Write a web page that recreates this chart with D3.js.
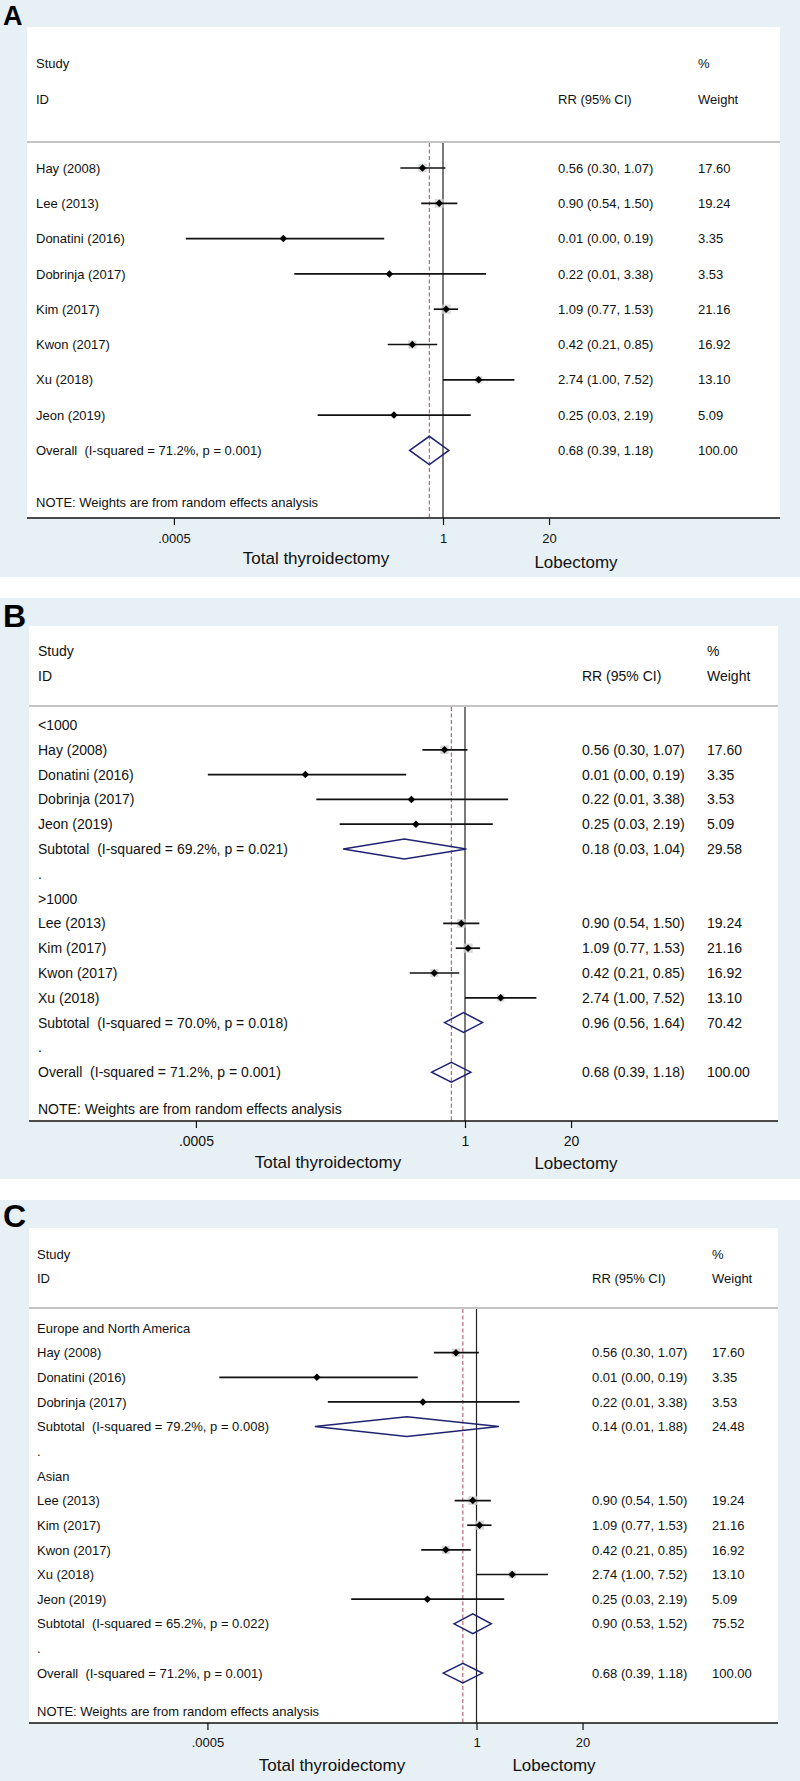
<!DOCTYPE html>
<html><head><meta charset="utf-8">
<script src="https://cdn.jsdelivr.net/npm/d3@7"></script>
<style>
body{margin:0;background:#fff;}
text{font-family:"Liberation Sans",Arial,Helvetica,sans-serif;fill:#111;white-space:pre;}
</style>
</head><body>
<svg id="chart" width="800" height="1781"></svg>
<script>
// ---------- data ----------
const studyNames  = ["Hay (2008)","Lee (2013)","Donatini (2016)","Dobrinja (2017)","Kim (2017)","Kwon (2017)","Xu (2018)","Jeon (2019)"];
const studyRR     = [0.56, 0.90, 0.011, 0.22, 1.09, 0.42, 2.74, 0.25];
const studyLo     = [0.30, 0.54, 0.0007, 0.015, 0.77, 0.21, 1.00, 0.029];
const studyHi     = [1.07, 1.50, 0.19, 3.38, 1.53, 0.85, 7.52, 2.19];
const studyWeight = [17.60, 19.24, 3.35, 3.53, 21.16, 16.92, 13.10, 5.09];

const overallRR = 0.68, overallLo = 0.39, overallHi = 1.18, overallWeight = 100.00;
const overallStat = "I-squared = 71.2%, p = 0.001";

const sizeGroups   = ["<1000", ">1000"];
const sizeMembers  = [[0,2,3,7],[1,4,5,6]];
const sizeSubRR    = [0.18, 0.96];
const sizeSubLo    = [0.032, 0.56];
const sizeSubHi    = [1.04, 1.64];
const sizeSubW     = [29.58, 70.42];
const sizeSubStat  = ["I-squared = 69.2%, p = 0.021", "I-squared = 70.0%, p = 0.018"];

const regionGroups  = ["Europe and North America", "Asian"];
const regionMembers = [[0,2,3],[1,4,5,6,7]];
const regionSubRR   = [0.14, 0.90];
const regionSubLo   = [0.0104, 0.53];
const regionSubHi   = [1.88, 1.52];
const regionSubW    = [24.48, 75.52];
const regionSubStat = ["I-squared = 79.2%, p = 0.008", "I-squared = 65.2%, p = 0.022"];

const tickValues = [0.0005, 1, 20];
const tickLabels = [".0005", "1", "20"];
const axisTitles = ["Total thyroidectomy", "Lobectomy"];
const noteText = "NOTE: Weights are from random effects analysis";

// ---------- layout ----------
const panels = [
  {label:"A", bgTop:0, bgBot:577, labelY:25, labelFs:27, boxL:27, boxR:780, boxTop:27, nullX:443,
   studyY:63, idY:99, sepY:142, row0:168, rowH:35.3, noteY:502, axisY:518, tickY:538,
   ttX:316, ttY:558, lobX:576, lobY:562, textX:36, rrX:558, wX:698, fs:13},
  {label:"B", bgTop:598, bgBot:1179, labelY:627, labelFs:32, boxL:29, boxR:778, boxTop:626, nullX:465,
   studyY:651, idY:676, sepY:706, row0:725, rowH:24.8, noteY:1109, axisY:1121, tickY:1141,
   ttX:328, ttY:1162, lobX:576, lobY:1163, textX:38, rrX:582, wX:707, fs:14},
  {label:"C", bgTop:1200, bgBot:1781, labelY:1227, labelFs:32, boxL:29, boxR:778, boxTop:1228, nullX:476.5,
   studyY:1254, idY:1278, sepY:1308, row0:1328, rowH:24.65, noteY:1711, axisY:1723, tickY:1742,
   ttX:332, ttY:1765, lobX:554, lobY:1765, textX:37, rrX:592, wX:712, fs:13}
];
const pxPerLn = 35.4;

// ---------- rows ----------
function studyRow(i){ return {type:"study", name:studyNames[i], rr:studyRR[i], lo:studyLo[i], hi:studyHi[i], w:studyWeight[i]}; }
function overallRow(){ return {type:"pooled", name:"Overall  (" + overallStat + ")", rr:overallRR, lo:overallLo, hi:overallHi, w:overallWeight}; }
function groupedRows(groups, members, sRR, sLo, sHi, sW, sStat){
  const rows = [];
  groups.forEach((g,gi)=>{
    rows.push({type:"label", name:g});
    members[gi].forEach(i=>rows.push(studyRow(i)));
    rows.push({type:"pooled", name:"Subtotal  (" + sStat[gi] + ")", rr:sRR[gi], lo:sLo[gi], hi:sHi[gi], w:sW[gi]});
    rows.push({type:"label", name:"."});
  });
  rows.push(overallRow());
  return rows;
}
panels[0].rows = studyNames.map((d,i)=>studyRow(i)).concat([overallRow()]);
panels[1].rows = groupedRows(sizeGroups, sizeMembers, sizeSubRR, sizeSubLo, sizeSubHi, sizeSubW, sizeSubStat);
panels[2].rows = groupedRows(regionGroups, regionMembers, regionSubRR, regionSubLo, regionSubHi, regionSubW, regionSubStat);

// ---------- draw ----------
const svg = d3.select("#chart");
const f2 = d3.format(".2f");
const BG = "#e7f0f4";

panels.forEach(p=>{
  const g = svg.append("g");
  g.append("rect").attr("x",0).attr("y",p.bgTop).attr("width",800).attr("height",p.bgBot-p.bgTop).attr("fill",BG);
  g.append("rect").attr("x",p.boxL).attr("y",p.boxTop).attr("width",p.boxR-p.boxL).attr("height",p.axisY-p.boxTop).attr("fill","#fff");
  g.append("text").attr("x",3).attr("y",p.labelY).text(p.label)
    .style("font-family","'Liberation Sans Narrow','Liberation Sans',Arial,sans-serif")
    .style("font-weight","bold").style("font-size",p.labelFs+"px").style("fill","#000");

  const x = d3.scaleLog().domain([tickValues[0], tickValues[2]])
    .range([p.nullX + pxPerLn*Math.log(tickValues[0]), p.nullX + pxPerLn*Math.log(tickValues[2])]);

  const fs = p.fs + "px";
  const txt = (tx, ty, s, anchor) => g.append("text").attr("x",tx).attr("y",ty).attr("dy","0.36em")
      .attr("text-anchor",anchor||"start").style("font-size",fs).text(s);

  // headers
  txt(p.textX, p.studyY, "Study");
  txt(p.textX, p.idY, "ID");
  txt(p.wX, p.studyY, "%");
  txt(p.rrX, p.idY, "RR (95% CI)");
  txt(p.wX, p.idY, "Weight");
  g.append("line").attr("x1",p.boxL).attr("x2",p.boxR).attr("y1",p.sepY).attr("y2",p.sepY)
    .attr("stroke","#c4c4c4").attr("stroke-width",2);

  // null line and overall dashed line
  g.append("line").attr("x1",x(1)).attr("x2",x(1)).attr("y1",p.sepY+1).attr("y2",p.axisY)
    .attr("stroke","#222").attr("stroke-width",1.2);
  g.append("line").attr("x1",x(overallRR)).attr("x2",x(overallRR)).attr("y1",p.sepY+1).attr("y2",p.axisY)
    .attr("stroke","#b35a6e").attr("stroke-width",1.1).attr("stroke-dasharray","4,2.5");

  // rows
  p.rows.forEach((r,i)=>{
    const y = p.row0 + i*p.rowH;
    txt(p.textX, y, r.name);
    if (r.type === "label") return;
    txt(p.rrX, y, f2(r.rr) + " (" + f2(r.lo) + ", " + f2(r.hi) + ")");
    txt(p.wX, y, f2(r.w));
    if (r.type === "study") {
      const s = 2*Math.sqrt(r.w);
      g.append("rect").attr("x",x(r.rr)-s/2).attr("y",y-s/2).attr("width",s).attr("height",s)
        .attr("fill","#cfcfcf").attr("opacity",0.8);
      g.append("line").attr("x1",x(r.lo)).attr("x2",x(r.hi)).attr("y1",y).attr("y2",y)
        .attr("stroke","#111").attr("stroke-width",1.7);
      g.append("path").attr("d", d3.symbol(d3.symbolSquare, 28)())
        .attr("transform",`translate(${x(r.rr)},${y}) rotate(45)`).attr("fill","#000");
    } else {
      const h = p.rowH*0.4;
      const pts = [[x(r.lo),y],[x(r.rr),y-h],[x(r.hi),y],[x(r.rr),y+h]];
      g.append("path").attr("d", d3.line()(pts) + "Z")
        .attr("fill","none").attr("stroke","#1e2270").attr("stroke-width",1.5);
    }
  });

  // note
  txt(p.textX, p.noteY, noteText);

  // axis
  const axis = d3.axisBottom(x).tickValues(tickValues).tickSize(7)
    .tickFormat((d,i)=>tickLabels[i]);
  const ag = g.append("g").attr("transform",`translate(0,${p.axisY})`).call(axis);
  ag.select(".domain").remove();
  ag.selectAll(".tick line").attr("stroke","#111").attr("stroke-width",1.2);
  ag.selectAll(".tick text").attr("y",p.tickY-p.axisY).attr("dy","0.36em")
    .style("font-size",fs).style("font-family","'Liberation Sans',Arial,sans-serif").attr("fill","#111");
  g.append("line").attr("x1",p.boxL).attr("x2",p.boxR).attr("y1",p.axisY).attr("y2",p.axisY)
    .attr("stroke","#111").attr("stroke-width",1.6);

  g.append("text").attr("x",p.ttX).attr("y",p.ttY).attr("dy","0.36em").attr("text-anchor","middle")
    .style("font-size","17px").text(axisTitles[0]);
  g.append("text").attr("x",p.lobX).attr("y",p.lobY).attr("dy","0.36em").attr("text-anchor","middle")
    .style("font-size","17px").text(axisTitles[1]);
});
</script>
</body></html>
